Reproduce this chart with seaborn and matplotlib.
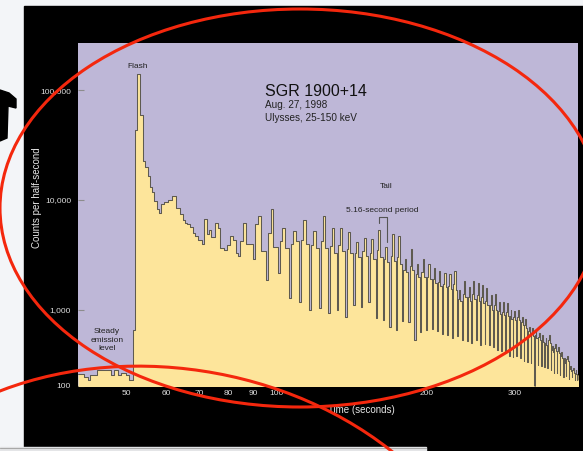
import matplotlib
matplotlib.use("Agg")
import matplotlib.pyplot as plt
import numpy as np
import pandas as pd
import seaborn as sns
from matplotlib.patches import Rectangle, Ellipse, PathPatch, Polygon
from matplotlib.path import Path
from matplotlib.ticker import NullLocator

# ---------------- data ----------------
# steady emission, flash and early decay: step start times (s) and counts per half-second
early_t = [40.0, 41.2, 41.8, 42.3, 43.7, 46.6, 47.3, 48.0, 48.8, 49.9, 50.7,
           51.6, 52.1, 52.6, 53.3, 53.9, 54.6, 55.2, 55.8, 56.3, 56.9, 57.5,
           58.0, 58.65, 59.6, 60.6, 61.7, 62.9, 63.9, 64.8, 65.5, 66.3, 67.1, 67.9,
           68.7, 69.5, 70.9, 71.7, 72.5, 73.2, 74.0, 75.4, 76.2, 77.1, 78.6, 79.5,
           80.5, 81.8, 83.0]
early_c = [145, 131, 119, 139, 161, 139, 161, 139, 150, 139, 119,
           540, 43000, 142000, 59000, 22800, 19800, 16600, 13000, 11700, 9800, 8260,
           7660, 9100, 9500, 9900, 10900, 8500, 7400, 6600, 6200, 6000, 5700, 5000,
           4700, 4300, 4000, 6700, 4900, 5300, 4600, 6200, 5600, 3660, 3500, 3900,
           4700, 4300, 3300]

# pulsating tail (5.16-s period): start time of each pulse and its dip / rise / peak / fall levels
pulse_t = [83.6, 89.6, 95.2, 100.6, 105.9, 111.1, 116.4, 121.6, 126.8, 132.0,
           137.2, 142.4, 147.6, 152.7, 157.9, 163.1, 168.3, 173.4, 178.6, 183.8,
           189.0, 194.1, 199.3, 204.5, 209.6, 214.8, 220.0, 225.1, 230.3, 235.5,
           240.6, 245.8, 251.0, 256.1, 261.3, 266.5, 271.6, 276.8, 282.0, 287.1,
           292.3, 297.5, 302.6, 307.8, 313.0, 318.1, 323.3, 328.5, 333.6, 338.8,
           344.0, 349.1, 354.3, 359.5, 364.6, 369.8, 375.0, 380.1, 385.3, 390.5,
           395.6, 400.8]
pulse_dip = [3060, 2880, 1880, 2150, 1270, 1180, 1000, 1030, 910, 1000,
             810, 1100, 1050, 1180, 770, 730, 600, 545, 700, 680,
             400, 510, 545, 560, 520, 480, 470, 430, 450, 400,
             390, 370, 400, 340, 350, 340, 320, 300, 290, 270,
             250, 240, 250, 230, 215, 207, 200, 60, 190, 180,
             175, 170, 160, 150, 150, 140, 130, 135, 125, 130,
             120, 120]
pulse_rise = [4200, 6000, 5000, 4200, 4000, 4300, 3900, 4200, 3800, 3900,
              3600, 3300, 3400, 3300, 3500, 2900, 3100, 3000, 2300, 2500,
              2100, 2200, 2000, 1900, 1800, 1700, 1650, 1700, 1250, 1400,
              1300, 1400, 1350, 1300, 1200, 1100, 1100, 950, 940, 920,
              820, 790, 800, 680, 630, 520, 490, 470, 440, 410,
              370, 400, 300, 310, 290, 250, 210, 225, 165, 160,
              150, 140]
pulse_peak = [6200, 7100, 8200, 5600, 5200, 6600, 5200, 7100, 5600, 5600,
              5100, 4100, 4500, 4400, 5300, 3700, 4900, 4700, 2900, 3600,
              2600, 2900, 2600, 2400, 2230, 2150, 2100, 2260, 1500, 1830,
              1600, 1830, 1750, 1690, 1570, 1360, 1380, 1180, 1170, 1140,
              1000, 960, 990, 810, 750, 600, 570, 540, 500, 470,
              420, 460, 330, 350, 320, 280, 230, 250, 180, 170,
              160, 145]
pulse_fall = [4000, 3400, 3700, 3650, 4200, 4000, 3650, 3650, 3300, 3400,
              3300, 3000, 3100, 2900, 3000, 2700, 2800, 2600, 2200, 2300,
              2000, 2000, 1900, 1750, 1650, 1600, 1550, 1500, 1200, 1300,
              1200, 1250, 1200, 1150, 1100, 1000, 980, 880, 860, 830,
              760, 720, 730, 620, 580, 480, 450, 430, 400, 380,
              340, 360, 280, 290, 270, 230, 200, 210, 155, 150,
              145, 135]

x_major = [100, 200, 300]
x_minor = [50, 60, 70, 80, 90]
y_ticks = [100, 1000, 10000, 100000]
y_labels = ["100", "1,000", "10,000", "100,000"]

# ---------------- style ----------------
sns.set_theme(style="white")
plt.rcParams["font.family"] = ["Liberation Sans", "DejaVu Sans"]

LAVENDER = "#BEB7D7"
YELLOW = "#FDE59B"
LINE = "#5E5A50"
RED = "#F4270D"
TICKTXT = "#DCDCDC"

W, H = 583, 451
fig = plt.figure(figsize=(W / 100, H / 100), dpi=100)
fig.patch.set_facecolor("#F3F5F8")

# background (slide)
bg = fig.add_axes([0, 0, 1, 1], zorder=-10)
bg.set_xlim(0, W); bg.set_ylim(H, 0); bg.axis("off")
bg.add_patch(Rectangle((24, 6), W - 24, H - 6, color="black"))
bg.add_patch(Rectangle((0, 447), 426, 4, color="#E4E5E7"))
bg.plot([0, 426], [447.6, 447.6], color="#A8A8A8", lw=0.8)
bg.add_patch(Polygon([(0, 90), (9, 93), (16, 99), (16, 108), (8, 106), (7, 138), (0, 141)],
                     color="black"))

# ---------------- main chart ----------------
L, R, T, B = 78, 578, 43, 386
ax = fig.add_axes([L / W, 1 - B / H, (R - L) / W, (B - T) / H])
ax.set_facecolor(LAVENDER)

edges = list(early_t)
vals = list(early_c)
for t0, d, r, p, f in zip(pulse_t, pulse_dip, pulse_rise, pulse_peak, pulse_fall):
    edges += [t0, t0 + 1.0, t0 + 2.1, t0 + 3.4]
    vals += [d, r, p, f]
edges.append(406.0)
vals.append(vals[-1])
df = pd.DataFrame({"time": edges, "counts": vals})

ax.fill_between(df["time"], df["counts"], 20, step="post", color=YELLOW, lw=0, zorder=1)
sns.lineplot(data=df, x="time", y="counts", ax=ax, drawstyle="steps-post",
             estimator=None, sort=False, color=LINE, lw=0.75, zorder=2)

K = 76 / 109  # compressed bottom decade, as in the original graphic


def fwd(y):
    l = np.log10(np.clip(np.asarray(y, float), 1e-6, None))
    return np.where(l >= 3, l, 3 - (3 - l) * K)


def inv(u):
    u = np.asarray(u, float)
    return np.where(u >= 3, 10.0 ** u, 10.0 ** (3 - (3 - u) / K))


ax.set_xscale("log")
ax.set_yscale("function", functions=(fwd, inv))
ax.set_xlim(40, 402)
ax.set_ylim(100, 270000)

ax.set_xticks(x_major, labels=[str(v) for v in x_major])
ax.set_xticks(x_minor, labels=[str(v) for v in x_minor], minor=True)
ax.set_yticks(y_ticks, labels=y_labels)
ax.yaxis.set_minor_locator(NullLocator())
ax.tick_params(axis="x", which="major", direction="in", length=4, width=0.8,
               color="#8C8C8C", labelsize=6, labelcolor=TICKTXT, pad=3, bottom=True)
ax.tick_params(axis="x", which="minor", length=0, labelsize=6, labelcolor=TICKTXT, pad=3, bottom=True)
ax.tick_params(axis="y", which="major", direction="in", length=4, width=0.8,
               color="#8C8C8C", labelsize=6, labelcolor=TICKTXT, pad=5, left=True)
ax.set_xlabel(""); ax.set_ylabel("")
for s in ax.spines.values():
    s.set_visible(False)
ax.grid(False)

# ---------------- overlay: texts and red annotation marks ----------------
ov = fig.add_axes([0, 0, 1, 1], zorder=10)
ov.set_xlim(0, W); ov.set_ylim(H, 0); ov.axis("off")
ov.patch.set_alpha(0)

ov.text(36.5, 198, "Counts per half-second", rotation=90, ha="center", va="center",
        color="#E6E6E6", fontsize=7)
ov.text(361, 410, "Time (seconds)", ha="center", va="center", color="#E6E6E6", fontsize=7)

ov.text(137.5, 66, "Flash", ha="center", va="center", color="#222222", fontsize=6)
ov.text(265, 91, "SGR 1900+14", ha="left", va="center", color="#111111", fontsize=11.5)
ov.text(265, 104.5, "Aug. 27, 1998", ha="left", va="center", color="#222222", fontsize=7.2)
ov.text(265, 118, "Ulysses, 25-150 keV", ha="left", va="center", color="#222222", fontsize=7.2)
ov.text(386, 186, "Tail", ha="center", va="center", color="#222222", fontsize=6)
ov.text(382, 210, "5.16-second period", ha="center", va="center", color="#222222", fontsize=6)
ov.plot([379, 379, 386.5, 386.5], [223, 216.5, 216.5, 242], color="#555555", lw=0.8)
ov.text(107, 340, "Steady\nemission\nlevel", ha="center", va="center", color="#222222",
        fontsize=6, linespacing=1.35)

ov.add_patch(Ellipse((300, 208), 600, 398, fill=False, ec=RED, lw=2.2, zorder=5))
arc = Path([(-10, 395), (120, 340), (290, 365), (400, 458)],
           [Path.MOVETO, Path.CURVE4, Path.CURVE4, Path.CURVE4])
ov.add_patch(PathPatch(arc, fill=False, ec=RED, lw=2.2, zorder=5))

fig.savefig("out.png", dpi=100, facecolor=fig.get_facecolor())
